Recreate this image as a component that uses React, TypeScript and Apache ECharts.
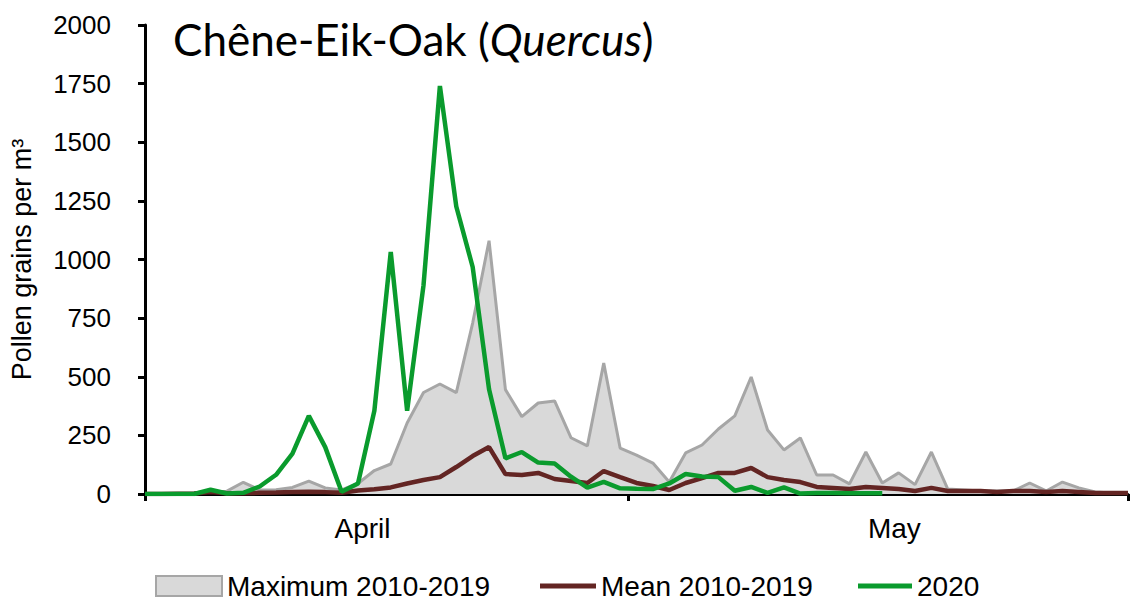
import React, { useEffect, useRef } from "react";
import * as echarts from "echarts";

const months = ["April", "May"];
const monthDays = [30, 31];
const monthLabelIndex = [13, 46];

const maxData = [
  0, 0, 0, 2, 10, 12, 50, 17, 18, 28,
  55, 26, 17, 45, 100, 128, 303, 433, 469, 432,
  729, 1080, 445, 330, 388, 397, 240, 205, 558, 196,
  166, 132, 51, 175, 209, 277, 333, 499, 273, 188,
  239, 81, 81, 43, 179, 47, 90, 40, 179, 21,
  17, 13, 13, 13, 47, 13, 51, 26, 9, 4,
  4,
];

const meanData = [
  0, 0, 1, 2, 8, 3, 3, 5, 6, 8,
  10, 8, 5, 15, 20, 28, 45, 60, 72, 115,
  162, 200, 85, 81, 90, 64, 55, 47, 98, 72,
  47, 34, 17, 47, 68, 90, 90, 111, 72, 60,
  51, 30, 26, 21, 30, 26, 21, 13, 26, 13,
  13, 13, 9, 13, 13, 9, 13, 9, 4, 4,
  4,
];

const data2020 = [
  0, 0, 0, 0, 18, 2, 5, 32, 82, 172,
  333, 200, 10, 45, 355, 1032, 355, 890, 1740, 1226,
  968, 447, 152, 179, 134, 130, 74, 27, 52, 24,
  22, 21, 45, 85, 75, 72, 14, 30, 5, 28,
  2, 4, 4, 3, 3, 3,
];

const seriesNames = ["Maximum 2010-2019", "Mean 2010-2019", "2020"];

const categories: string[] = [];
const categoryMonth: string[] = [];
months.forEach((m, mi) => {
  for (let d = 1; d <= monthDays[mi]; d++) {
    categories.push(d + " " + m);
    categoryMonth.push(m);
  }
});

const FONT = "'Liberation Sans', Arial, sans-serif";
const TITLE_FONT = "Lato, 'Noto Sans', sans-serif";

export default function App() {
  const ref = useRef<HTMLDivElement>(null);
  useEffect(() => {
    if (!ref.current) return;
    const chart = echarts.init(ref.current, null, { renderer: "svg" });
    const legendText = { fontFamily: FONT, fontSize: 28, color: "#000" };
    chart.setOption({
      animation: false,
      backgroundColor: "#ffffff",
      title: {
        text: "{n|Chêne-Eik-Oak (}{i|Quercus}{n|)}",
        left: 168,
        top: 12,
        textStyle: {
          fontWeight: "normal",
          rich: {
            n: { fontFamily: TITLE_FONT, fontSize: 44, fontWeight: "normal", color: "#000" },
            i: { fontFamily: TITLE_FONT, fontSize: 44, fontWeight: "normal", fontStyle: "italic", color: "#000" },
          },
        },
      },
      grid: { left: 145, right: 2, top: 25, bottom: 111, containLabel: false },
      legend: [
        {
          data: [{ name: seriesNames[0], icon: "rect", itemStyle: { color: "#d9d9d9", borderColor: "#a6a6a6", borderWidth: 2 } }],
          left: 155, top: 572, itemWidth: 66, itemHeight: 20, padding: 0,
          textStyle: legendText,
        },
        {
          data: [{ name: seriesNames[1], icon: "rect", itemStyle: { color: "#632523", borderWidth: 0 } }],
          left: 540, top: 572, itemWidth: 56, itemHeight: 5, padding: 0,
          textStyle: legendText,
        },
        {
          data: [{ name: seriesNames[2], icon: "rect", itemStyle: { color: "#0a9b2d", borderWidth: 0 } }],
          left: 858, top: 572, itemWidth: 54, itemHeight: 5, padding: 0,
          textStyle: legendText,
        },
      ],
      xAxis: [
        {
          type: "category",
          data: categories,
          boundaryGap: false,
          axisLine: { show: true, lineStyle: { color: "#000", width: 3 } },
          axisTick: { show: false },
          axisLabel: { show: false },
          splitLine: { show: false },
        },
        {
          type: "category",
          data: categories,
          boundaryGap: true,
          position: "bottom",
          axisLine: { show: false },
          axisTick: {
            show: true,
            interval: (i: number) => i === 0 || i === monthDays[0],
            length: 7,
            lineStyle: { color: "#000", width: 3 },
          },
          axisLabel: {
            show: true,
            interval: (i: number) => monthLabelIndex.indexOf(i) >= 0,
            formatter: (v: string) => categoryMonth[categories.indexOf(v)],
            margin: 20,
            fontFamily: FONT,
            fontSize: 28,
            color: "#000",
          },
          splitLine: { show: false },
        },
      ],
      yAxis: {
        type: "value",
        min: 0,
        max: 2000,
        interval: 250,
        name: "Pollen grains per m³",
        nameLocation: "middle",
        nameGap: 110,
        nameTextStyle: { fontFamily: FONT, fontSize: 27, color: "#000" },
        axisLine: { show: true, lineStyle: { color: "#000", width: 3 } },
        axisTick: { show: true, length: 7, lineStyle: { color: "#000", width: 3 } },
        axisLabel: {
          margin: 34,
          fontFamily: FONT,
          fontSize: 26,
          color: "#000",
          formatter: (v: number) => String(v),
        },
        splitLine: { show: false },
      },
      series: [
        {
          name: seriesNames[0],
          type: "line",
          data: maxData,
          symbol: "none",
          lineStyle: { color: "#a6a6a6", width: 3 },
          itemStyle: { color: "#d9d9d9" },
          areaStyle: { color: "#d9d9d9", opacity: 1 },
          z: 2,
        },
        {
          name: seriesNames[1],
          type: "line",
          data: meanData,
          symbol: "none",
          lineStyle: { color: "#632523", width: 4.5 },
          itemStyle: { color: "#632523" },
          z: 3,
        },
        {
          name: seriesNames[2],
          type: "line",
          data: data2020,
          symbol: "none",
          lineStyle: { color: "#0a9b2d", width: 4.5 },
          itemStyle: { color: "#0a9b2d" },
          z: 4,
        },
      ],
    });
    return () => chart.dispose();
  }, []);
  return <div ref={ref} style={{ width: 1130, height: 605, position: "absolute", left: 0, top: 0 }} />;
}
